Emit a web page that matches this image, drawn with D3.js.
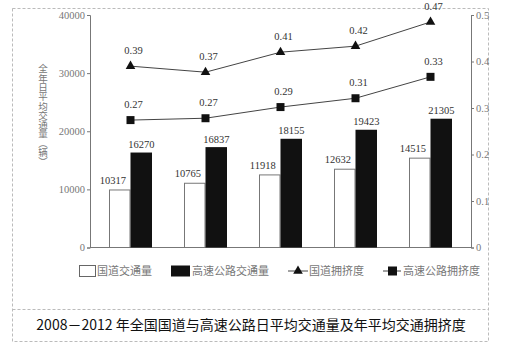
<!DOCTYPE html>
<html><head><meta charset="utf-8">
<script src="https://cdn.jsdelivr.net/npm/d3@7"></script>
<style>body{margin:0;background:#fff}svg{display:block}</style>
</head><body>
<svg id="c" width="509" height="360"></svg>
<script>
const years = ["2008","2009","2010","2011","2012"];
// labelled values
const guodaoVolume = [10317, 10765, 11918, 12632, 14515];
const gaosuVolume = [16270, 16837, 18155, 19423, 21305];
const guodaoCongestion = [0.39, 0.37, 0.41, 0.42, 0.47];
const gaosuCongestion = [0.27, 0.27, 0.29, 0.31, 0.33];
// values as drawn in the picture (heights/positions)
const guodaoVolumeDrawn = [9896, 11053, 12487, 13471, 15371];
const gaosuVolumeDrawn = [16338, 17271, 18705, 20259, 22158];
const guodaoCongestionDrawn = [0.390, 0.377, 0.420, 0.433, 0.485];
const gaosuCongestionDrawn = [0.274, 0.278, 0.302, 0.321, 0.367];
const leftTicks = [0, 10000, 20000, 30000, 40000];
const rightTicks = [0, 0.1, 0.2, 0.3, 0.4, 0.5];
const legendLabels = ["国道交通量", "高速公路交通量", "国道拥挤度", "高速公路拥挤度"];
const yTitle = "全年日平均交通量(辆)";
const title = "2008－2012 年全国国道与高速公路日平均交通量及年平均交通拥挤度";

const svg = d3.select("#c");
const L = 90, R = 471, T = 15, B = 247.5;
const x = d3.scaleBand().domain(years).range([L + 3, R - 3]);
const yL = d3.scaleLinear().domain([0, 40000]).range([B, T]);
const yR = d3.scaleLinear().domain([0, 0.5]).range([B, T]);
const serif = "'Liberation Serif', 'DejaVu Serif', serif";
const cjk = "'Noto Sans CJK SC', sans-serif";

// dashed frame
const dash = "3,2";
svg.append("rect").attr("x", 12.5).attr("y", 8.5).attr("width", 476).attr("height", 333)
  .attr("fill", "none").attr("stroke", "#bbb").attr("stroke-dasharray", dash);
svg.append("line").attr("x1", 12.5).attr("x2", 488.5).attr("y1", 309.5).attr("y2", 309.5)
  .attr("stroke", "#bbb").attr("stroke-dasharray", dash);

// axes
const axL = svg.append("g").attr("transform", `translate(${L},0)`)
  .call(d3.axisLeft(yL).tickValues(leftTicks).tickSize(3).tickPadding(2).tickFormat(d3.format("d")));
const axR = svg.append("g").attr("transform", `translate(${R},0)`)
  .call(d3.axisRight(yR).tickValues(rightTicks).tickSize(3).tickPadding(2).tickFormat(d => d === 0 ? "0" : d3.format(".1f")(d)));
[axL, axR].forEach(a => {
  a.select(".domain").attr("stroke", "#777");
  a.selectAll(".tick line").attr("stroke", "#777");
  a.selectAll("text").attr("font-family", serif).attr("font-size", 10.5).attr("fill", "#777");
});
svg.append("line").attr("x1", L).attr("x2", R).attr("y1", B).attr("y2", B).attr("stroke", "#777");

// y title, vertical writing
const vtext = Array.from(yTitle).map(c => c === "(" ? "︵" : c === ")" ? "︶" : c).join("");
svg.append("text").attr("x", 43).attr("y", 64)
  .style("writing-mode", "vertical-rl").style("text-orientation", "upright")
  .attr("letter-spacing", "-0.2px")
  .attr("font-family", cjk).attr("font-size", 9.5).attr("fill", "#777")
  .text(vtext);

const bw = 21.5;
const cx = d => x(d) + x.bandwidth() / 2;
// bars
const g = svg.append("g");
g.selectAll(".w").data(years).join("rect")
  .attr("x", d => cx(d) - bw + 0.5).attr("width", bw - 1)
  .attr("y", (d, i) => yL(guodaoVolumeDrawn[i])).attr("height", (d, i) => B - yL(guodaoVolumeDrawn[i]))
  .attr("fill", "#fff").attr("stroke", "#777");
g.selectAll(".b").data(years).join("rect")
  .attr("x", d => cx(d)).attr("width", bw)
  .attr("y", (d, i) => yL(gaosuVolumeDrawn[i])).attr("height", (d, i) => B - yL(gaosuVolumeDrawn[i]))
  .attr("fill", "#111");
g.selectAll(".wl").data(years).join("text")
  .attr("x", d => cx(d) - bw / 2 - 7).attr("y", (d, i) => yL(guodaoVolumeDrawn[i]) - 6)
  .attr("text-anchor", "middle").attr("font-family", serif).attr("font-size", 10.5).attr("fill", "#333")
  .text((d, i) => guodaoVolume[i]);
g.selectAll(".bl").data(years).join("text")
  .attr("x", d => cx(d) + bw / 2).attr("y", (d, i) => yL(gaosuVolumeDrawn[i]) - 4.5)
  .attr("text-anchor", "middle").attr("font-family", serif).attr("font-size", 10.5).attr("fill", "#333")
  .text((d, i) => gaosuVolume[i]);

// lines
const line = d3.line().x(d => cx(d.k)).y(d => yR(d.v));
function series(drawn, labels, shape) {
  const data = years.map((k, i) => ({k, v: drawn[i], t: labels[i]}));
  svg.append("path").attr("d", line(data)).attr("fill", "none").attr("stroke", "#444").attr("stroke-width", 1);
  const sym = d3.symbol().type(shape).size(shape === d3.symbolSquare ? 64 : 40);
  svg.append("g").selectAll("path").data(data).join("path")
    .attr("transform", d => `translate(${cx(d.k)},${yR(d.v)})`)
    .attr("d", sym).attr("fill", "#111");
  svg.append("g").selectAll("text").data(data).join("text")
    .attr("x", d => cx(d.k) + 3).attr("y", d => yR(d.v) - 12)
    .attr("text-anchor", "middle").attr("font-family", serif).attr("font-size", 10.5).attr("fill", "#333")
    .text(d => d3.format(".2f")(d.t));
}
series(guodaoCongestionDrawn, guodaoCongestion, d3.symbolTriangle);
series(gaosuCongestionDrawn, gaosuCongestion, d3.symbolSquare);

// legend
const ly = 271;
const lg = svg.append("g").attr("font-family", cjk).attr("font-size", 11).attr("fill", "#777");
lg.append("rect").attr("x", 79.5).attr("y", ly - 5.5).attr("width", 16).attr("height", 11).attr("fill", "#fff").attr("stroke", "#666");
lg.append("text").attr("x", 97).attr("y", ly + 4).text(legendLabels[0]);
lg.append("rect").attr("x", 171).attr("y", ly - 5.5).attr("width", 19).attr("height", 11).attr("fill", "#111");
lg.append("text").attr("x", 192).attr("y", ly + 4).text(legendLabels[1]);
lg.append("line").attr("x1", 288).attr("x2", 308).attr("y1", ly).attr("y2", ly).attr("stroke", "#444");
lg.append("path").attr("transform", `translate(298,${ly})`).attr("d", d3.symbol().type(d3.symbolTriangle).size(40)).attr("fill", "#111");
lg.append("text").attr("x", 309).attr("y", ly + 4).text(legendLabels[2]);
lg.append("line").attr("x1", 383).attr("x2", 401).attr("y1", ly).attr("y2", ly).attr("stroke", "#444");
lg.append("rect").attr("x", 388).attr("y", ly - 4.5).attr("width", 9).attr("height", 9).attr("fill", "#111");
lg.append("text").attr("x", 403).attr("y", ly + 4).text(legendLabels[3]);

// title
svg.append("text").attr("x", 251).attr("y", 330).attr("text-anchor", "middle")
  .attr("font-family", cjk).attr("font-size", 14).attr("fill", "#111").text(title);
</script>
</body></html>
